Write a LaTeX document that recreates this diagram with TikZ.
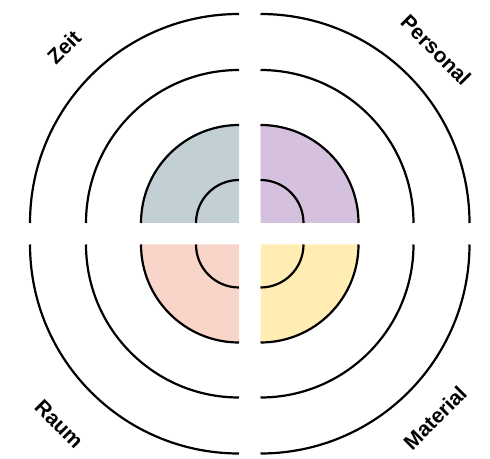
\documentclass[tikz,border=0pt]{standalone}
\usepackage{fontspec}
\setmainfont{Liberation Sans}
\definecolor{cTL}{HTML}{C2CFD5}
\definecolor{cTR}{HTML}{D5C1DD}
\definecolor{cBL}{HTML}{F9D5C9}
\definecolor{cBR}{HTML}{FFEDB4}
\begin{document}
\begin{tikzpicture}[x=1pt,y=1pt,
  ring/.style={line width=2.2pt},
  lbl/.style={font=\bfseries\fontsize{21}{21}\selectfont, inner sep=0pt}]
\useasboundingbox (0,0) rectangle (490,458);
\coordinate (tl) at (239,235);
\coordinate (tr) at (260.5,235);
\coordinate (bl) at (239,213.5);
\coordinate (br) at (260.5,213.5);
% fills
\fill[cTL] (tl) -- ++(90:98) arc[start angle=90,end angle=180,radius=98] -- cycle;
\fill[cTR] (tr) -- ++(0:98) arc[start angle=0,end angle=90,radius=98] -- cycle;
\fill[cBL] (bl) -- ++(180:98) arc[start angle=180,end angle=270,radius=98] -- cycle;
\fill[cBR] (br) -- ++(270:98) arc[start angle=270,end angle=360,radius=98] -- cycle;
% rings
\foreach \r in {43,98,153,209}{
  \draw[ring] (tl) ++(90:\r) arc[start angle=90,end angle=180,radius=\r];
  \draw[ring] (tr) ++(0:\r) arc[start angle=0,end angle=90,radius=\r];
  \draw[ring] (bl) ++(180:\r) arc[start angle=180,end angle=270,radius=\r];
  \draw[ring] (br) ++(270:\r) arc[start angle=270,end angle=360,radius=\r];
}
% labels
\node[lbl, rotate=45] (zeit) at (64,411) {Zeit};
\node[lbl, rotate=-45] (personal) at (436,408) {Personal};
\node[lbl, rotate=-45] (raum) at (59,34) {Raum};
\node[lbl, rotate=45] (material) at (435,40) {Material};
\end{tikzpicture}
\end{document}
